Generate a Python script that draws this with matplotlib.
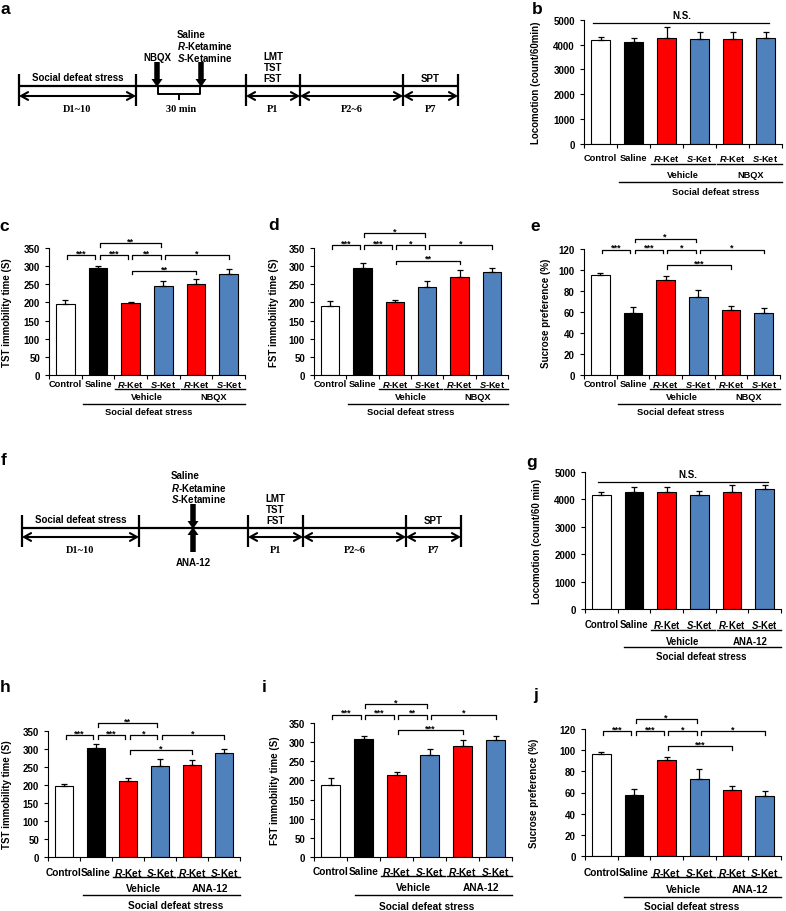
import numpy as np
import matplotlib
matplotlib.use("Agg")
import matplotlib.pyplot as plt
from matplotlib.patches import FancyArrow
from matplotlib import transforms

plt.rcParams['font.family'] = ['Liberation Sans', 'DejaVu Sans']
plt.rcParams['font.weight'] = 'bold'
plt.rcParams['mathtext.fontset'] = 'custom'
plt.rcParams['mathtext.it'] = 'Liberation Sans:italic:bold'
plt.rcParams['mathtext.rm'] = 'Liberation Sans:bold'
plt.rcParams['mathtext.bf'] = 'Liberation Sans:bold'
plt.rcParams['axes.linewidth'] = 0.8

# ---------------- data ----------------
groups = ['Control', 'Saline', r'$\mathit{R}$-Ket', r'$\mathit{S}$-Ket',
          r'$\mathit{R}$-Ket', r'$\mathit{S}$-Ket']
bar_colors = ['white', 'black', '#FF0000', '#4F81BD', '#FF0000', '#4F81BD']

loco_nbqx_mean = [4180, 4100, 4270, 4230, 4220, 4260]
loco_nbqx_err = [130, 150, 430, 290, 270, 240]
tst_nbqx_mean = [197, 295, 199, 245, 250, 280]
tst_nbqx_err = [9, 7, 3, 15, 16, 13]
fst_nbqx_mean = [189, 296, 201, 244, 270, 283]
fst_nbqx_err = [14, 12, 5, 16, 19, 12]
spt_nbqx_mean = [95.2, 59, 90.5, 74.6, 61.6, 59]
spt_nbqx_err = [1.8, 6, 3.5, 6.5, 4.4, 4.5]

loco_ana_mean = [4146, 4268, 4268, 4170, 4268, 4390]
loco_ana_err = [110, 170, 170, 120, 240, 120]
tst_ana_mean = [198, 304, 210, 253, 255, 288]
tst_ana_err = [6, 11, 10, 19, 15, 11]
fst_ana_mean = [187, 307, 215, 267, 291, 306]
fst_ana_err = [20, 9, 8, 16, 14, 9]
spt_ana_mean = [96, 57.5, 90.3, 72.6, 61.9, 56.8]
spt_ana_err = [1.9, 5.5, 3.7, 10, 4.7, 4.5]

# significance brackets: (from group, to group, height, label)
sig_tst_nbqx = [(0, 1, 331, '***'), (1, 2, 331, '***'), (2, 3, 331, '**'),
                (3, 5, 331, '*'), (1, 3, 365, '**'), (2, 4, 288, '**')]
sig_fst_nbqx = [(0, 1, 359, '***'), (1, 2, 359, '***'), (2, 3, 359, '*'),
                (3, 5, 359, '*'), (1, 3, 393, '*'), (2, 4, 316, '**')]
sig_spt_nbqx = [(0, 1, 119.4, '***'), (1, 2, 119.4, '***'), (2, 3, 119.4, '*'),
                (3, 5, 119.4, '*'), (1, 3, 130, '*'), (2, 4, 105, '***')]
sig_tst_ana = [(0, 1, 339, '***'), (1, 2, 339, '***'), (2, 3, 339, '*'),
               (3, 5, 339, '*'), (1, 3, 373, '**'), (2, 4, 296, '*')]
sig_fst_ana = [(0, 1, 372, '***'), (1, 2, 372, '***'), (2, 3, 372, '**'),
               (3, 5, 372, '*'), (1, 3, 400, '*'), (2, 4, 331, '***')]
sig_spt_ana = [(0, 1, 118.4, '***'), (1, 2, 118.4, '***'), (2, 3, 118.4, '*'),
               (3, 5, 118.4, '*'), (1, 3, 129.5, '*'), (2, 4, 103.6, '***')]

ns_nbqx = 4870
ns_ana = 4630

phase_labels = ['D1~10', 'P1', 'P2~6', 'P7']
drug_lines = ['Saline', r'$\mathit{R}$-Ketamine', r'$\mathit{S}$-Ketamine']
test_lines = ['LMT', 'TST', 'FST']

# ---------------- figure ----------------
W, H = 786, 912
fig = plt.figure(figsize=(W / 100, H / 100), dpi=100)

ov = fig.add_axes([0, 0, 1, 1])
ov.set_xlim(0, W)
ov.set_ylim(H, 0)
ov.axis('off')


def px_axes(l, r, t, b):
    return fig.add_axes([l / W, 1 - b / H, (r - l) / W, (b - t) / H])


def below(ax, px):
    return ax.get_xaxis_transform() + transforms.ScaledTranslation(0, -px / 100, fig.dpi_scale_trans)


def bar_panel(ax, means, errs, ymax, ystep, ylabel, ylabel_px, drug, offs, fs, sds_c, line0=0.55):
    x = np.arange(len(means))
    ax.bar(x, means, width=0.57, color=bar_colors, edgecolor='black', linewidth=0.8, zorder=2)
    ax.errorbar(x, means, yerr=[np.zeros(len(errs)), errs], fmt='none', ecolor='black',
                elinewidth=0.9, capsize=2.2, capthick=0.9, zorder=3)
    ax.set_xlim(-0.5, 5.5)
    ax.set_ylim(0, ymax)
    ax.set_yticks(np.arange(0, ymax + 1e-9, ystep))
    ax.set_xticks(np.arange(-0.5, 6, 1))
    ax.set_xticklabels([])
    ax.tick_params(axis='both', direction='out', length=3, width=0.8, labelsize=7)
    ax.spines['top'].set_visible(False)
    ax.spines['right'].set_visible(False)
    ax.set_ylabel(ylabel, fontsize=7, fontweight='bold')
    bb = ax.get_position()
    wpx = bb.width * W
    ax.yaxis.set_label_coords(-(ylabel_px) / wpx, 0.5)
    for lbl in ax.get_yticklabels():
        lbl.set_fontweight('bold')
    r1, l1, r2, l2, r3 = offs
    for i, g in enumerate(groups):
        ax.text(i, 0, g, transform=below(ax, r1), ha='center', va='center', fontsize=fs)
    ax.plot([1.52, 3.47], [0, 0], transform=below(ax, l1), color='black', lw=1.0, clip_on=False)
    ax.plot([3.53, 5.5], [0, 0], transform=below(ax, l1), color='black', lw=1.0, clip_on=False)
    ax.text(2.5, 0, 'Vehicle', transform=below(ax, r2), ha='center', va='center', fontsize=fs)
    ax.text(4.55, 0, drug, transform=below(ax, r2), ha='center', va='center', fontsize=fs)
    ax.plot([line0, 5.5], [0, 0], transform=below(ax, l2), color='black', lw=1.0, clip_on=False)
    ax.text(sds_c, 0, 'Social defeat stress', transform=below(ax, r3), ha='center',
            va='center', fontsize=fs)


def brackets(ax, sig, ymax):
    leg = 0.03 * ymax
    for i, j, y, lab in sig:
        x1 = i + 0.05
        x2 = j - 0.08 if j <= 3 else j
        ax.plot([x1, x1, x2, x2], [y - leg, y, y, y - leg], color='black', lw=0.9,
                clip_on=False, zorder=4)
        ax.annotate(lab, xy=((x1 + x2) / 2, y), xytext=(0, 1.5), textcoords='offset points',
                    ha='center', va='center', fontsize=6.5, annotation_clip=False)


def ns_line(ax, y, x1, x2, xt):
    ax.plot([x1, x2], [y, y], color='black', lw=0.9, clip_on=False)
    ax.annotate('N.S.', xy=(xt, y), xytext=(0, 6), textcoords='offset points',
                ha='center', va='center', fontsize=7, annotation_clip=False)


# ---------------- timelines ----------------
def dbl_arrow(x1, x2, y):
    ov.annotate('', xy=(x2, y), xytext=(x1, y),
                arrowprops=dict(arrowstyle='<->,head_length=0.5,head_width=0.28', lw=1.5,
                                color='black', shrinkA=0, shrinkB=0))


def fat_arrow(x, y0, y1):
    ov.add_patch(FancyArrow(x, y0, 0, y1 - y0, width=5.5, head_width=11, head_length=8,
                            length_includes_head=True, color='black', lw=0))


def stacked(x, ys, lines, ha):
    for yy, t in zip(ys, lines):
        ov.text(x, yy, t, ha=ha, va='center', fontsize=7)


def timeline(xs, y_line, y_arr, t_top, t_bot, lab_y):
    ov.plot([xs[0], xs[-1]], [y_line, y_line], color='black', lw=1.6, solid_capstyle='butt')
    for x in xs:
        ov.plot([x, x], [t_top, t_bot], color='black', lw=1.6, solid_capstyle='butt')
    segs = [(xs[0], xs[1]), (xs[2], xs[3]), (xs[3], xs[4]), (xs[4], xs[5])]
    for (a, b), lab in zip(segs, phase_labels):
        dbl_arrow(a, b, y_arr)
        ov.text((a + b) / 2, lab_y, lab, ha='center', va='center', fontsize=7.5,
                family='Liberation Serif', fontweight='bold')
    ov.text((xs[0] + xs[1]) / 2, y_line - 9, 'Social defeat stress', ha='center',
            va='center', fontsize=7)
    stacked((xs[2] + xs[3]) / 2, [y_line - 30, y_line - 19, y_line - 8], test_lines, 'center')
    ov.text((xs[4] + xs[5]) / 2, y_line - 8, 'SPT', ha='center', va='center', fontsize=7)


# panel a
xa = [19, 136, 246, 300, 403, 458]
timeline(xa, 87, 97, 75, 107, 109)
fat_arrow(157, 63, 88)
fat_arrow(201, 63, 88)
ov.text(157, 58, 'NBQX', ha='center', va='center', fontsize=7)
stacked(177, [35, 46.5, 58], drug_lines, 'left')
ov.plot([158, 158, 200, 200], [87, 95, 95, 87], color='black', lw=1.4)
ov.plot([179, 179], [95, 100], color='black', lw=1.4)
ov.text(181, 109, '30 min', ha='center', va='center', fontsize=7.5,
        family='Liberation Serif', fontweight='bold')

# panel f
xf = [22, 139, 248, 303, 406, 461]
timeline(xf, 529, 538, 516, 548, 551)
fat_arrow(193, 505, 530)
fat_arrow(193, 553, 528)
stacked(171, [476, 488, 499], drug_lines, 'left')
ov.text(193, 563, 'ANA-12', ha='center', va='center', fontsize=7)

# panel letters
for lt, (lx, ly) in zip('abcdefghij', [(5, 9), (537, 9), (4, 227), (274, 226), (535, 227),
                                        (4, 461), (532, 463), (5, 688), (264, 688), (536, 696)]):
    ov.text(lx, ly, lt, ha='center', va='center', fontsize=12.5, fontweight='bold')

# ---------------- bar panels ----------------
off_big = (14, 20, 31, 38, 48)
off_small = (9, 14, 22, 29, 37)

axb = px_axes(584, 782, 20.7, 144.7)
bar_panel(axb, loco_nbqx_mean, loco_nbqx_err, 5000, 1000, 'Locomotion (count/60min)', 43,
          'NBQX', off_big, 6.7, 3.5)
ns_line(axb, ns_nbqx, -0.23, 5.1, 2.47)

axc = px_axes(49, 245, 249.3, 375.7)
bar_panel(axc, tst_nbqx_mean, tst_nbqx_err, 350, 50, 'TST immobility time (S)', 37,
          'NBQX', off_small, 6.7, 2.55)
brackets(axc, sig_tst_nbqx, 350)

axd = px_axes(314, 508, 249.3, 375.7)
bar_panel(axd, fst_nbqx_mean, fst_nbqx_err, 350, 50, 'FST immobility time (S)', 35,
          'NBQX', off_small, 6.7, 2.5)
brackets(axd, sig_fst_nbqx, 350)

axe = px_axes(584, 780, 250, 376)
bar_panel(axe, spt_nbqx_mean, spt_nbqx_err, 120, 20, 'Sucrose preference (%)', 33,
          'NBQX', off_small, 6.7, 2.45)
brackets(axe, sig_spt_nbqx, 120)

axg = px_axes(585, 781, 473, 610)
bar_panel(axg, loco_ana_mean, loco_ana_err, 5000, 1000, 'Locomotion (count/60 min)', 43,
          'ANA-12', (15, 21, 32, 38, 47), 6.9, 3.05, 0.7)
ns_line(axg, ns_ana, -0.1, 5.1, 2.65)

axh = px_axes(48, 240, 732, 858)
bar_panel(axh, tst_ana_mean, tst_ana_err, 350, 50, 'TST immobility time (S)', 36,
          'ANA-12', (15, 20, 31, 38, 48), 7.3, 3.5, 0.59)
brackets(axh, sig_tst_ana, 350)

axi = px_axes(314, 512, 724, 858)
bar_panel(axi, fst_ana_mean, fst_ana_err, 350, 50, 'FST immobility time (S)', 34,
          'ANA-12', (14, 19, 30, 38, 49), 7.3, 2.9, 0.75)
brackets(axi, sig_fst_ana, 350)

axj = px_axes(585, 781, 730, 857)
bar_panel(axj, spt_ana_mean, spt_ana_err, 120, 20, 'Sucrose preference (%)', 46,
          'ANA-12', (16, 21, 33, 41, 50), 7.3, 2.75, 0.69)
brackets(axj, sig_spt_ana, 120)

fig.savefig('out.png', dpi=100)
